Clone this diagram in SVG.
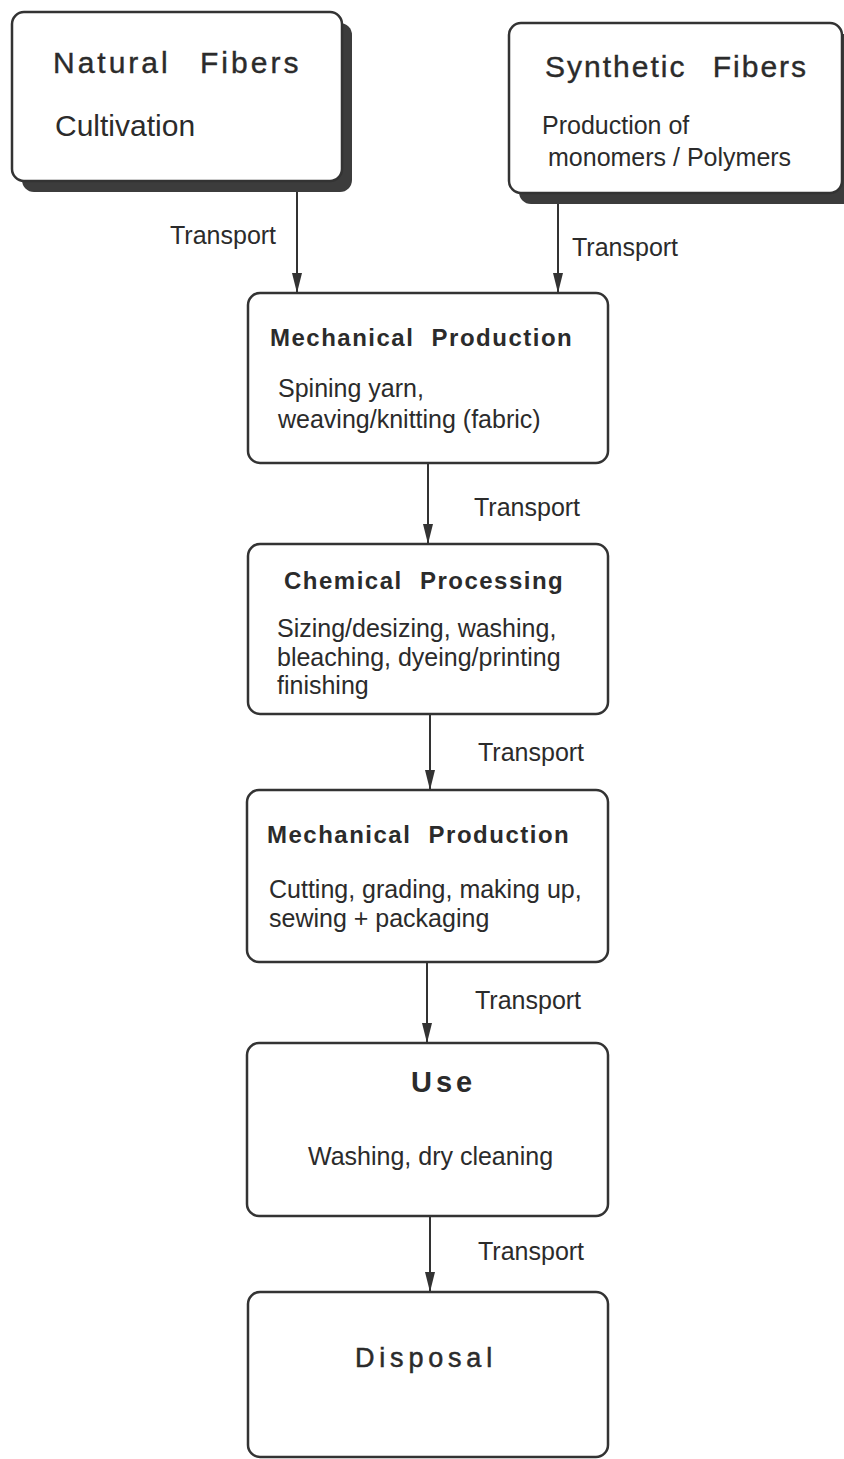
<svg xmlns="http://www.w3.org/2000/svg" width="844" height="1459" viewBox="0 0 844 1459">
  <style>
    .box { fill: #ffffff; stroke: #333333; stroke-width: 2.5; }
    .shadow { fill: #3c3c3c; stroke: none; }
    .conn { stroke: #333333; stroke-width: 2; fill: none; marker-end: url(#arrow); }
    text { font-family: "Liberation Sans", Arial, Helvetica, sans-serif; fill: #2b2b2b; }
    .body { font-size: 25px; }
    .big { font-size: 30px; }
    .label { font-size: 25px; }
    .head { font-size: 30px; stroke: #2b2b2b; stroke-width: 0.4; }
    .end { font-size: 27px; stroke: #2b2b2b; stroke-width: 0.5; }
    .step { font-size: 24px; font-weight: bold; }
    .use { font-size: 29px; font-weight: bold; }
  </style>
  <defs>
    <marker id="arrow" markerUnits="userSpaceOnUse" viewBox="0 0 20 10" refX="20" refY="5" markerWidth="20" markerHeight="10" orient="auto">
      <path d="M0,0 L20,5 L0,10 Z" fill="#333333"/>
    </marker>
  </defs>
  <rect width="844" height="1459" fill="#ffffff"/>

  <!-- Sources -->
  <g id="natural-fibers">
    <rect class="shadow" x="22" y="23" width="330" height="169" rx="12"/>
    <rect class="box" x="12" y="12" width="330" height="169" rx="12"/>
    <text class="head" x="53" y="73" letter-spacing="3" word-spacing="18">Natural Fibers</text>
    <text class="big" x="55" y="136">Cultivation</text>
  </g>

  <g id="synthetic-fibers">
    <rect class="shadow" x="519" y="34" width="340" height="170" rx="12"/>
    <rect class="box" x="509" y="23" width="333" height="170" rx="12"/>
    <text class="head" x="545" y="77" letter-spacing="2" word-spacing="16">Synthetic Fibers</text>
    <text class="body" x="542" y="134">Production of</text>
    <text class="body" x="548" y="166">monomers / Polymers</text>
  </g>

  <!-- Process chain -->
  <g id="mechanical-production-1">
    <rect class="box" x="248" y="293" width="360" height="170" rx="12"/>
    <text class="step" x="270" y="346" letter-spacing="1.5" word-spacing="9">Mechanical Production</text>
    <text class="body" x="278" y="397">Spining yarn,</text>
    <text class="body" x="278" y="428">weaving/knitting (fabric)</text>
  </g>

  <g id="chemical-processing">
    <rect class="box" x="248" y="544" width="360" height="170" rx="12"/>
    <text class="step" x="284" y="589" letter-spacing="1.5" word-spacing="9">Chemical Processing</text>
    <text class="body" x="277" y="637">Sizing/desizing, washing,</text>
    <text class="body" x="277" y="666">bleaching, dyeing/printing</text>
    <text class="body" x="277" y="694">finishing</text>
  </g>

  <g id="mechanical-production-2">
    <rect class="box" x="247" y="790" width="361" height="172" rx="12"/>
    <text class="step" x="267" y="843" letter-spacing="1.5" word-spacing="9">Mechanical Production</text>
    <text class="body" x="269" y="898">Cutting, grading, making up,</text>
    <text class="body" x="269" y="927">sewing + packaging</text>
  </g>

  <g id="use">
    <rect class="box" x="247" y="1043" width="361" height="173" rx="12"/>
    <text class="use" x="411" y="1092" letter-spacing="4">Use</text>
    <text class="body" x="308" y="1165">Washing, dry cleaning</text>
  </g>

  <g id="disposal">
    <rect class="box" x="248" y="1292" width="360" height="165" rx="12"/>
    <text class="end" x="355" y="1367" letter-spacing="4.8">Disposal</text>
  </g>

  <!-- Transport connectors -->
  <g id="connectors">
    <line class="conn" x1="297" y1="192" x2="297" y2="293"/>
    <line class="conn" x1="558" y1="204" x2="558" y2="293"/>
    <line class="conn" x1="428" y1="463" x2="428" y2="544"/>
    <line class="conn" x1="430" y1="714" x2="430" y2="790"/>
    <line class="conn" x1="427" y1="962" x2="427" y2="1043"/>
    <line class="conn" x1="430" y1="1216" x2="430" y2="1292"/>
    <text class="label" x="170" y="244">Transport</text>
    <text class="label" x="572" y="256">Transport</text>
    <text class="label" x="474" y="516">Transport</text>
    <text class="label" x="478" y="761">Transport</text>
    <text class="label" x="475" y="1009">Transport</text>
    <text class="label" x="478" y="1260">Transport</text>
  </g>
</svg>
